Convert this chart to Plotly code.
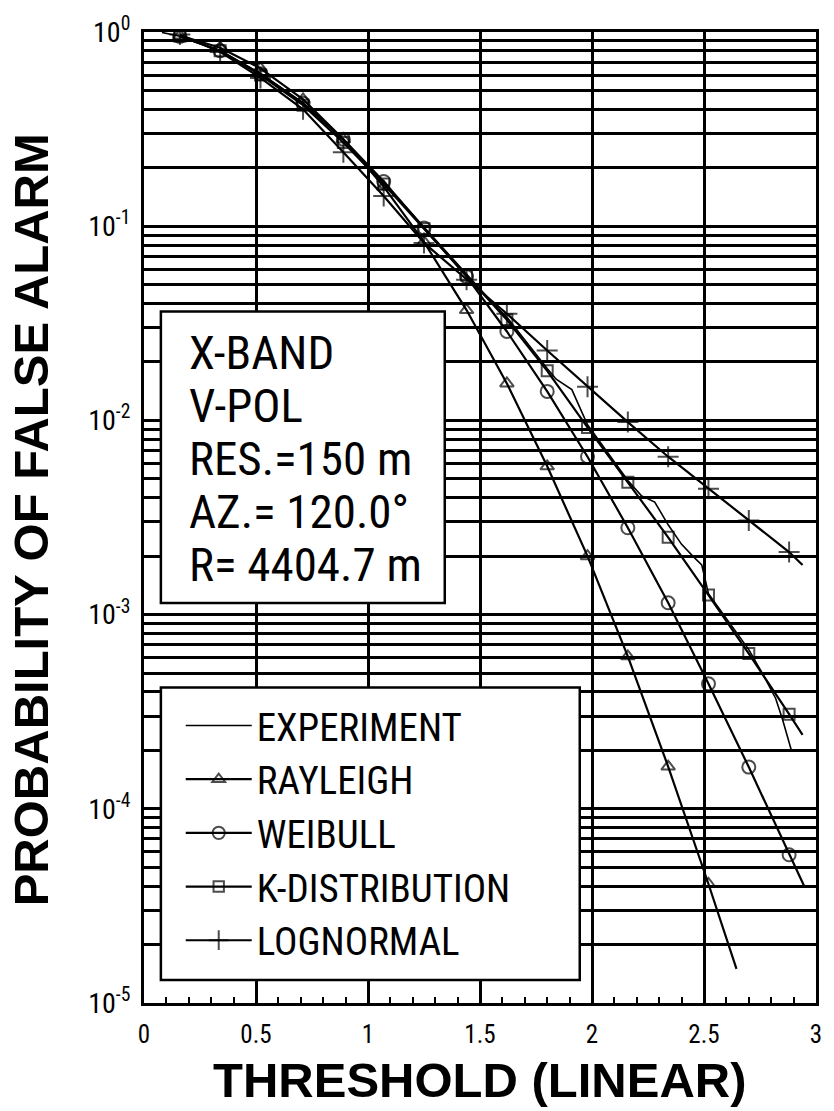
import plotly.graph_objects as go

# ---- data -------------------------------------------------------------
# thresholds at which the model markers are plotted
MARKER_X = [0.16, 0.34, 0.52, 0.71, 0.89, 1.07, 1.25, 1.44,
            1.62, 1.80, 1.98, 2.16, 2.34, 2.52, 2.70, 2.88]

# probability of false alarm for each model at MARKER_X
RAYLEIGH_P = [0.96, 0.83, 0.65, 0.45, 0.28, 0.16, 0.083, 0.037,
              0.0155, 0.0058, 0.0020, 6.1e-4, 1.65e-4, 4.1e-5]
WEIBULL_P = [0.95, 0.80, 0.61, 0.43, 0.28, 0.17, 0.098, 0.055,
             0.0287, 0.0141, 0.0065, 0.0028, 1.15e-3, 4.4e-4, 1.64e-4, 5.8e-5]
K_DIST_P = [0.95, 0.80, 0.60, 0.42, 0.27, 0.165, 0.097, 0.056,
            0.033, 0.018, 0.0092, 0.0048, 0.0025, 1.26e-3, 6.3e-4, 3.07e-4]
LOGNORMAL_P = [0.97, 0.79, 0.58, 0.40, 0.24, 0.143, 0.082, 0.053,
               0.0354, 0.0229, 0.0149, 0.0098, 0.0065, 0.00445, 0.00305, 0.0021]

# last point of each model curve (beyond the final marker)
RAYLEIGH_END = (2.645, 1.5e-5)
WEIBULL_END = (2.947, 4.0e-5)
K_DIST_END = (2.94, 2.4e-4)
LOGNORMAL_END = (2.94, 1.8e-3)

# measured exceedance curve
EXP_X = [0.08, 0.16, 0.34, 0.52, 0.71, 0.89, 1.07, 1.25, 1.44, 1.55, 1.62,
         1.71, 1.80, 1.84, 1.91, 1.98, 2.07, 2.16, 2.22, 2.28, 2.34, 2.40,
         2.45, 2.49, 2.52, 2.60, 2.70, 2.76, 2.82, 2.85, 2.89]
EXP_P = [0.995, 0.95, 0.80, 0.61, 0.43, 0.28, 0.168, 0.099, 0.057, 0.041, 0.034,
         0.025, 0.0185, 0.0163, 0.0144, 0.0095, 0.0068, 0.0049, 0.0041, 0.0038,
         0.0029, 0.0023, 0.0020, 0.0018, 0.00128, 0.00095, 0.00066, 0.00050,
         0.00037, 0.00029, 0.00020]

DECADES = [-5, -4, -3, -2, -1, 0]
INFO_LINES = ["X-BAND", "V-POL", "RES.=150 m", "AZ.= 120.0°", "R= 4404.7 m"]

# ---- styling ----------------------------------------------------------
NARROW = ("Noto Sans Condensed, Roboto Condensed, Liberation Sans Narrow, "
          "Arial Narrow, Liberation Sans, sans-serif")
BOLD = "Liberation Sans, Arial, Helvetica, sans-serif"
W, H = 834, 1111
ML, MR, MT, MB = 144, 13, 27, 108
PW, PH = W - ML - MR, H - MT - MB


def px_to_paper(px, py):
    return (px - ML) / PW, (H - MB - py) / PH


fig = go.Figure()

fig.add_trace(go.Scatter(
    x=EXP_X, y=EXP_P, mode="lines", name="EXPERIMENT",
    line=dict(color="black", width=1.6),
))


def add_model(name, probs, end, symbol, size):
    xs = MARKER_X[:len(probs)] + [end[0]]
    ys = probs + [end[1]]
    sizes = [size] * len(probs) + [0]
    fig.add_trace(go.Scatter(
        x=xs, y=ys, mode="lines+markers", name=name,
        line=dict(color="black", width=2.2),
        marker=dict(symbol=symbol, size=sizes, color="black",
                    line=dict(color="black", width=2)),
    ))


add_model("RAYLEIGH", RAYLEIGH_P, RAYLEIGH_END, "triangle-up-open", 12)
add_model("WEIBULL", WEIBULL_P, WEIBULL_END, "circle-open", 13)
add_model("K-DISTRIBUTION", K_DIST_P, K_DIST_END, "square-open", 11)
add_model("LOGNORMAL", LOGNORMAL_P, LOGNORMAL_END, "cross-thin-open", 15)

# labelled decades, plus a minor grid line at every 2..9 x 10^k
major_vals = [10.0 ** d for d in DECADES]
major_text = [f"10<sup>{'-' if d < 0 else ''}{abs(d)}</sup>" for d in DECADES]
minor_vals = [m * 10.0 ** d for d in DECADES[:-1] for m in range(2, 10)]

fig.update_xaxes(
    range=[0, 3], tick0=0, dtick=0.5,
    showgrid=True, gridcolor="black", gridwidth=2.5, zeroline=False,
    showline=True, linecolor="black", linewidth=3, mirror=True,
    ticks="inside", ticklen=8, tickwidth=2, tickcolor="black",
    minor=dict(dtick=0.1, ticks="inside", ticklen=6, tickwidth=2,
               tickcolor="black", showgrid=False),
    tickfont=dict(family=NARROW, size=25, color="black"),
    ticklabelstandoff=7,
)
fig.update_yaxes(
    type="log", range=[-5, 0],
    tickvals=major_vals, ticktext=major_text,
    showgrid=True, gridcolor="black", gridwidth=2.5, zeroline=False,
    minor=dict(tickmode="array", tickvals=minor_vals, ticks="",
               showgrid=True, gridcolor="black", gridwidth=2.5),
    showline=True, linecolor="black", linewidth=3, mirror=True,
    ticks="", tickfont=dict(family=NARROW, size=28, color="black"),
    ticklabelstandoff=5,
)

shapes = []
# info box and legend box
for (x0, y0, x1, y1) in [(161, 308, 447, 601), (161, 686, 583, 980)]:
    px0, py0 = px_to_paper(x0, y1)
    px1, py1 = px_to_paper(x1, y0)
    shapes.append(dict(type="rect", xref="paper", yref="paper",
                       x0=px0, y0=py0, x1=px1, y1=py1,
                       fillcolor="white", line=dict(color="black", width=2.5),
                       layer="above"))

annotations = []
for i, line in enumerate(INFO_LINES):
    ax, ay = px_to_paper(187, 349 + i * 53.2)
    annotations.append(dict(text=line, xref="paper", yref="paper", x=ax, y=ay,
                            xanchor="left", yanchor="middle", showarrow=False,
                            font=dict(family=NARROW, size=47, color="black")))

tx, ty = px_to_paper(31, 517)
annotations.append(dict(text="PROBABILITY OF FALSE ALARM", textangle=-90,
                        xref="paper", yref="paper", x=tx, y=ty,
                        xanchor="center", yanchor="middle", showarrow=False,
                        font=dict(family=BOLD, size=49, color="black", weight="bold")))
bx, by = px_to_paper(482, 1080)
annotations.append(dict(text="THRESHOLD (LINEAR)",
                        xref="paper", yref="paper", x=bx, y=by,
                        xanchor="center", yanchor="middle", showarrow=False,
                        font=dict(family=BOLD, size=49, color="black", weight="bold")))

lx, ly = px_to_paper(181, 692)
fig.update_layout(
    width=W, height=H,
    margin=dict(l=ML, r=MR, t=MT, b=MB, pad=0),
    paper_bgcolor="white", plot_bgcolor="white",
    shapes=shapes, annotations=annotations,
    showlegend=True,
    legend=dict(x=lx, y=ly, xanchor="left", yanchor="top",
                bgcolor="rgba(0,0,0,0)", borderwidth=0,
                font=dict(family=NARROW, size=39, color="black"),
                itemwidth=66, tracegroupgap=0),
)

fig.write_html("out.html")
